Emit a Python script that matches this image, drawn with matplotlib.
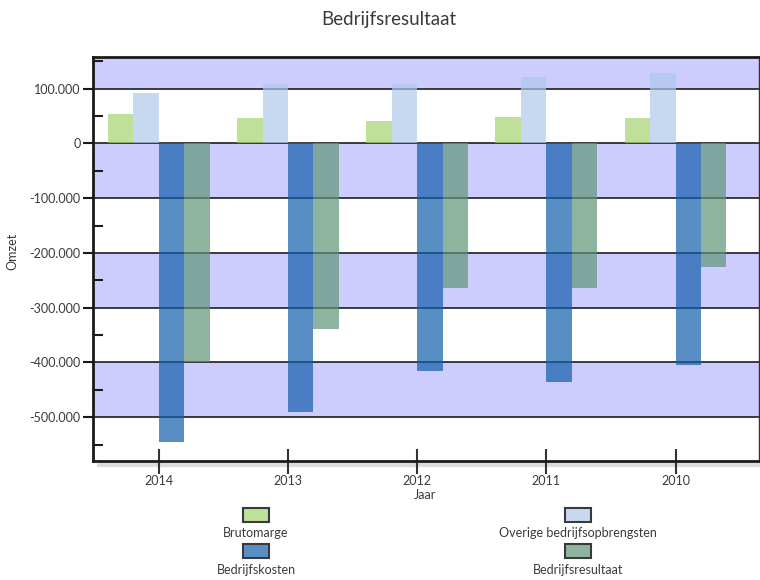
import matplotlib
matplotlib.use("Agg")
import matplotlib.pyplot as plt
from matplotlib.colors import to_rgba
from matplotlib.patches import Rectangle
from matplotlib.ticker import FuncFormatter, MultipleLocator
from matplotlib.lines import Line2D
import numpy as np

plt.rcParams['font.family'] = ['Lato', 'DejaVu Sans']

# ---- data ----
years = ["2014", "2013", "2012", "2011", "2010"]
series_names = ["Brutomarge", "Overige bedrijfsopbrengsten", "Bedrijfskosten", "Bedrijfsresultaat"]
brutomarge = [53000, 46000, 41000, 49000, 46000]
overige = [93000, 109000, 109000, 122000, 128000]
bedrijfskosten = [-546000, -491000, -416000, -435000, -404000]
bedrijfsresultaat = [-399000, -339000, -264000, -264000, -226000]
series_values = [brutomarge, overige, bedrijfskosten, bedrijfsresultaat]
colors = ["#a5d36f", "#aec9eb", "#135eab", "#5f9577"]
ALPHA = 0.7

W, H = 760, 580
fig = plt.figure(figsize=(W / 100, H / 100), dpi=100)
ax_l, ax_r, ax_t, ax_b = 93, 759, 57, 461
ax = fig.add_axes([ax_l / W, 1 - ax_b / H, (ax_r - ax_l) / W, (ax_b - ax_t) / H])

ymin, ymax = -580000, 158000
ax.set_ylim(ymin, ymax)
x = np.arange(len(years))
ax.set_xlim(-0.51, len(years) - 1 + 0.646)

# alternating bands
band_color = "#ccccff"
for lo, hi in [(100000, ymax), (-100000, 0), (-300000, -200000), (-500000, -400000)]:
    ax.axhspan(lo, hi, color=band_color, zorder=0, lw=0)

# gridlines
for v in range(-500000, 100001, 100000):
    ax.axhline(v, color="#1e1e1e", lw=1.2, zorder=1)

w = 0.197
offsets = [-1.5, -0.5, 0.5, 1.5]
for vals, off, c in zip(series_values, offsets, colors):
    ax.bar(x + off * w, vals, width=w, color=c, alpha=ALPHA, zorder=2, lw=0)

# axes styling
for s in ["left", "bottom", "top"]:
    ax.spines[s].set_linewidth(2)
    ax.spines[s].set_color("#1a1a1a")
ax.spines["right"].set_linewidth(1.0)
ax.spines["right"].set_color("#333333")

ax.yaxis.set_minor_locator(MultipleLocator(50000))
ax.set_yticks(list(range(-500000, 100001, 100000)))


def fmt(v, pos):
    v = int(round(v))
    if v == 0:
        return "0"
    s = f"{abs(v):,}".replace(",", ".")
    return ("-" if v < 0 else "") + s


ax.yaxis.set_major_formatter(FuncFormatter(fmt))
ax.tick_params(axis="y", which="major", direction="out", length=7, width=1.5,
               color="#1a1a1a", labelsize=9, labelcolor="#3a3a3a", pad=2)
ax.tick_params(axis="y", which="minor", direction="in", length=7, width=1.5, color="#1a1a1a")
ax.set_xticks(x)
ax.set_xticklabels(years)
ax.tick_params(axis="x", which="major", direction="inout", length=18, width=1.5,
               color="#333333", labelsize=9, labelcolor="#3a3a3a", pad=1)

ax.set_ylabel("Omzet", fontsize=9, color="#3a3a3a")
ax.yaxis.set_label_coords(-(ax_l - 18) / (ax_r - ax_l), 0.52)
fig.text(425 / W, 1 - 495 / H, "Jaar", ha="center", va="center", fontsize=9, color="#3a3a3a")
fig.text(389 / W, 1 - 20 / H, "Bedrijfsresultaat", ha="center", va="center", fontsize=13.5, color="#3a3a3a")

# shadow under bottom axis
fig.add_artist(Line2D([(ax_l + 6) / W, (ax_r + 1) / W], [1 - 464.5 / H, 1 - 464.5 / H],
                      transform=fig.transFigure, color="#dcdcdc", lw=3, zorder=0))

# legend (manual, patch above label)
leg_pos = [(256, 515, 533), (578, 515, 533), (256, 551, 570), (578, 551, 570)]
for name, c, (cx, py, ly) in zip(series_names, colors, leg_pos):
    pw, ph = 26, 14
    fig.add_artist(Rectangle(((cx - pw / 2) / W, 1 - (py + ph / 2) / H), pw / W, ph / H,
                             transform=fig.transFigure, facecolor=to_rgba(c, ALPHA),
                             edgecolor="#3a3a3a", lw=1.5))
    fig.text(cx / W, 1 - ly / H, name, ha="center", va="center", fontsize=9, color="#3a3a3a")

fig.savefig("out.png", dpi=100)
